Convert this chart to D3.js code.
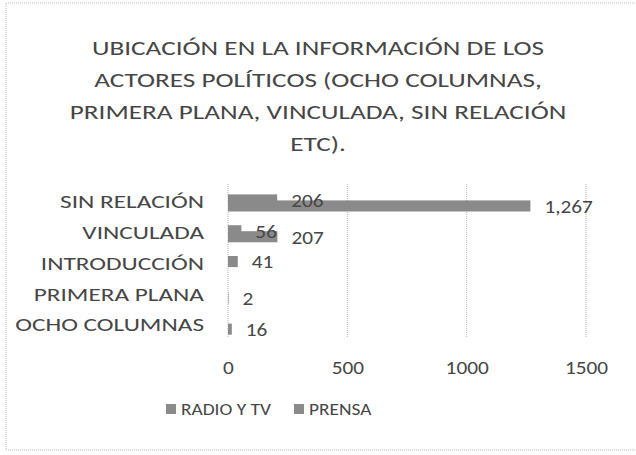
<!DOCTYPE html>
<html>
<head>
<meta charset="utf-8">
<script src="https://cdn.jsdelivr.net/npm/d3@7"></script>
<style>
  html, body { margin: 0; padding: 0; background: #fff; }
  svg text { font-family: Carlito, Lato, "Open Sans", sans-serif; fill: #464646; }
</style>
</head>
<body>
<div id="chart"></div>
<script>
// categories, top to bottom as drawn
const categories = ["SIN RELACIÓN", "VINCULADA", "INTRODUCCIÓN", "PRIMERA PLANA", "OCHO COLUMNAS"];
// series values per category (null = empty cell)
const radioTv = [1267, 207, null, 2, 16];
const prensa = [206, 56, 41, null, null];
const seriesNames = ["RADIO Y TV", "PRENSA"];
const xTicks = [0, 500, 1000, 1500];
const titleLines = [
  "UBICACIÓN EN LA INFORMACIÓN DE LOS",
  "ACTORES POLÍTICOS (OCHO COLUMNAS,",
  "PRIMERA PLANA, VINCULADA, SIN RELACIÓN",
  "ETC)."
];

const W = 636, H = 455;
const BAR_COLOR = "#8a8a8a";
// the scanned chart is a bit wider than tall, so letters get stretched
const SX_CAPS = 1.33;
const SX_NUM = 1.12;

const svg = d3.select("#chart").append("svg")
  .attr("width", W)
  .attr("height", H);

// chart frame
svg.append("rect")
  .attr("x", 6).attr("y", 3)
  .attr("width", 640).attr("height", 447)
  .attr("fill", "none")
  .attr("stroke", "#bdbdbd")
  .attr("stroke-dasharray", "1,1");

// title
svg.append("g").selectAll("text")
  .data(titleLines)
  .join("text")
  .attr("transform", (d, i) => `translate(318,${55 + i * 32}) scale(${SX_CAPS},1)`)
  .attr("text-anchor", "middle")
  .attr("font-size", 20.5)
  .text(d => d);

const x = d3.scaleLinear().domain([0, 1500]).range([228, 586]);
const y = d3.scaleBand().domain(categories).range([186, 340]);

// vertical grid lines
svg.append("g").selectAll("line")
  .data(xTicks)
  .join("line")
  .attr("x1", d => x(d)).attr("x2", d => x(d))
  .attr("y1", 184).attr("y2", 338)
  .attr("stroke", "#b5b5b5")
  .attr("stroke-dasharray", "1,1");

// x axis tick labels
const xAxis = svg.append("g")
  .attr("transform", "translate(0,374)")
  .call(d3.axisBottom(x).tickValues(xTicks).tickSize(0).tickPadding(0).tickFormat(d3.format("d")));
xAxis.select(".domain").remove();
xAxis.selectAll("text")
  .attr("font-size", 19)
  .attr("y", 0).attr("dy", 0)
  .attr("transform", `scale(${SX_NUM},1)`);

// category labels
const yAxis = svg.append("g")
  .attr("transform", "translate(204,0)")
  .call(d3.axisLeft(y).tickSize(0).tickPadding(0));
yAxis.select(".domain").remove();
yAxis.selectAll("text")
  .attr("font-size", 19)
  .attr("dy", "0.36em")
  .attr("transform", `scale(${SX_CAPS},1)`);

// bars: radio y tv sits lower, prensa above and drawn over it
const barH = y.bandwidth() * 0.36;
const offsets = [-1, -7];
const rows = [];
[radioTv, prensa].forEach((vals, s) => {
  categories.forEach((c, i) => {
    if (vals[i] != null) rows.push({ s, c, v: vals[i] });
  });
});

const bandMid = c => y(c) + y.bandwidth() / 2;

svg.append("g").selectAll("rect")
  .data(rows)
  .join("rect")
  .attr("x", x(0))
  .attr("y", d => bandMid(d.c) + offsets[d.s])
  .attr("width", d => x(d.v) - x(0))
  .attr("height", barH)
  .attr("fill", BAR_COLOR);

const fmt = d3.format(",");
svg.append("g").selectAll("text")
  .data(rows)
  .join("text")
  .attr("transform", d => `translate(${x(d.v) + 14},${bandMid(d.c) + offsets[d.s] + barH / 2}) scale(${SX_NUM},1)`)
  .attr("dy", "0.36em")
  .attr("font-size", 19)
  .text(d => fmt(d.v));

// legend
const legend = svg.append("g").attr("transform", "translate(166,409)");
const legX = [0, 128];
seriesNames.forEach((name, i) => {
  legend.append("rect")
    .attr("x", legX[i]).attr("y", -5)
    .attr("width", 10).attr("height", 10)
    .attr("fill", BAR_COLOR);
  legend.append("text")
    .attr("transform", `translate(${legX[i] + 15},0) scale(1.25,1)`)
    .attr("dy", "0.36em")
    .attr("font-size", 15.5)
    .text(name);
});
</script>
</body>
</html>
